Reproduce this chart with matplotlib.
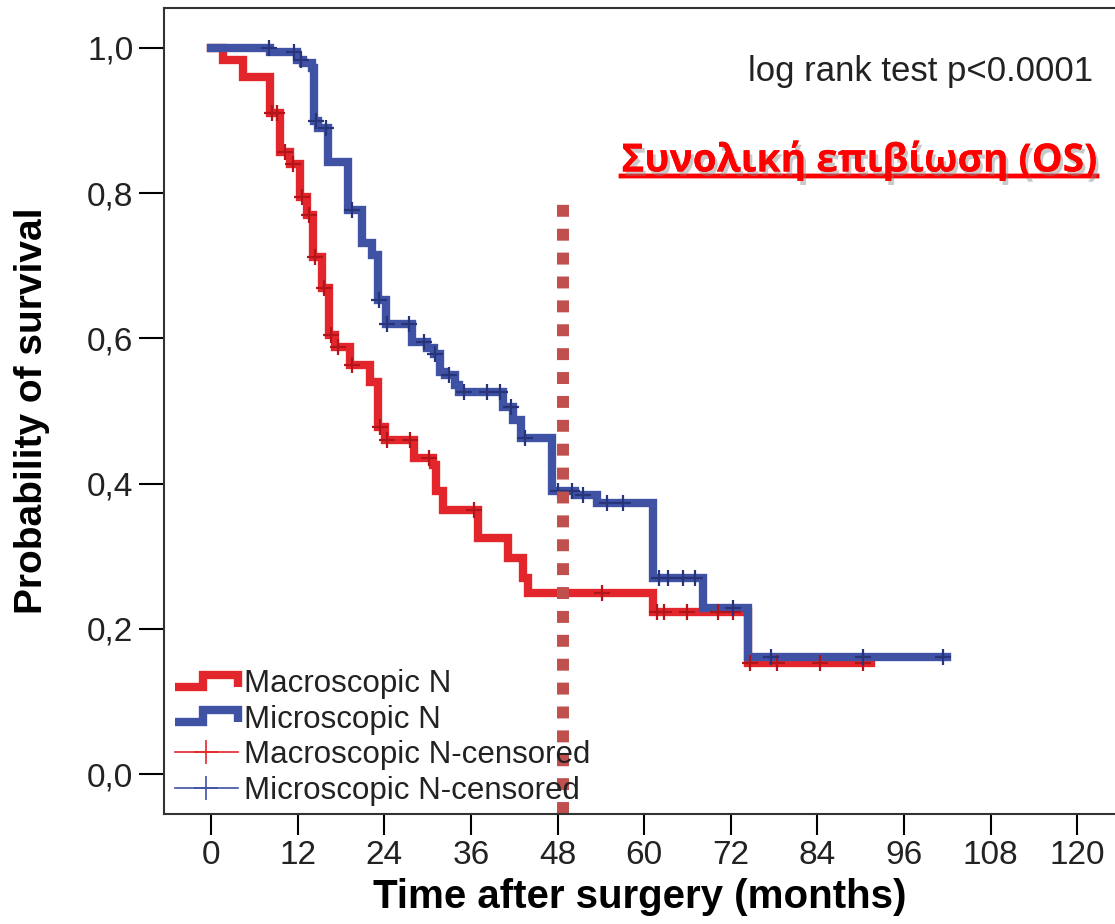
import matplotlib
matplotlib.use("Agg")
import matplotlib.pyplot as plt
import matplotlib.patheffects as pe
from matplotlib.legend_handler import HandlerBase
from matplotlib.lines import Line2D
from matplotlib.ticker import FixedLocator, FuncFormatter

# Kaplan-Meier steps (months, survival after the drop)
macro_times = [0, 1.7, 4.4, 8.2, 9.6, 10.9, 12.3, 13.3, 14.1, 15.4, 16.3, 17.2, 19.3,
               22.0, 23.1, 24.1, 28.1, 30.7, 31.2, 32.1, 37.0, 41.1, 43.2, 43.9,
               61.2, 74.4, 91.4]
macro_surv = [1.0, 0.983, 0.96, 0.91, 0.857, 0.84, 0.795, 0.77, 0.712, 0.67, 0.605,
              0.588, 0.563, 0.54, 0.478, 0.46, 0.435, 0.425, 0.39, 0.364, 0.325,
              0.298, 0.27, 0.249, 0.223, 0.153, 0.153]
micro_times = [0, 8.2, 11.9, 12.7, 14.0, 14.3, 14.8, 16.2, 19.0, 20.9, 22.3, 23.1,
               24.2, 27.8, 29.9, 30.9, 31.7, 32.4, 33.8, 34.3, 40.4, 41.8, 42.9,
               47.2, 50.4, 53.5, 61.2, 68.1, 74.4, 101.9]
micro_surv = [1.0, 0.995, 0.983, 0.979, 0.972, 0.9, 0.89, 0.843, 0.777, 0.731, 0.715,
              0.653, 0.62, 0.595, 0.587, 0.578, 0.554, 0.55, 0.536, 0.526, 0.506,
              0.488, 0.463, 0.39, 0.384, 0.373, 0.27, 0.229, 0.161, 0.161]

# censored observations (months)
macro_censor = [8.4, 9.2, 10.2, 11.4, 12.6, 13.6, 14.4, 15.6, 16.6, 17.6, 19.6, 23.4,
                24.4, 27.6, 30.2, 36.5, 54.2, 61.8, 62.8, 65.9, 70.2, 72.3, 74.6,
                78.4, 84.3, 90.3]
micro_censor = [8.0, 11.5, 12.5, 14.6, 16.0, 19.5, 23.3, 24.4, 27.5, 29.5, 31.0, 33.0,
                35.0, 38.3, 40.0, 41.5, 43.5, 48.0, 50.0, 51.5, 54.8, 57.1, 62.0,
                63.3, 65.4, 67.0, 72.3, 77.5, 90.3, 101.4]

cutoff_month = 48.75
cutoff_top = 0.785

x_ticks = [0, 12, 24, 36, 48, 60, 72, 84, 96, 108, 120]
y_ticks = [0.0, 0.2, 0.4, 0.6, 0.8, 1.0]

RED = "#e2262b"
BLUE = "#3f52a4"
DOT = "#c0504d"


def surv_at(times, surv, t):
    value = surv[0]
    for ti, si in zip(times, surv):
        if ti <= t:
            value = si
    return value


class StepHandler(HandlerBase):
    def create_artists(self, legend, orig_handle, xdescent, ydescent, width, height,
                       fontsize, trans):
        x0 = -xdescent
        lo = -ydescent + 0.25 * height
        hi = -ydescent + 0.8 * height
        xs = [x0, x0 + 0.45 * width, x0 + 0.45 * width, x0 + width, x0 + width]
        ys = [lo, lo, hi, hi, lo]
        line = Line2D(xs, ys, color=orig_handle.get_color(),
                      lw=orig_handle.get_linewidth(), solid_joinstyle="miter",
                      solid_capstyle="butt")
        line.set_transform(trans)
        return [line]


plt.rcParams["font.family"] = ["Liberation Sans", "DejaVu Sans"]

fig = plt.figure(figsize=(11.15, 9.24), dpi=100)
W, H = 1115, 924
ax = fig.add_axes([164 / W, 1 - 814 / H, 956.7 / W, 806 / H])

ax.step(macro_times, macro_surv, where="post", color=RED, lw=6, solid_joinstyle="miter")
ax.step(micro_times, micro_surv, where="post", color=BLUE, lw=6, solid_joinstyle="miter")

mc_y = [surv_at(macro_times, macro_surv, t) for t in macro_censor]
mi_y = [surv_at(micro_times, micro_surv, t) for t in micro_censor]
ax.plot(macro_censor, mc_y, ls="none", marker="+", ms=12, mew=1.6, color="#b3141a")
ax.plot(micro_censor, mi_y, ls="none", marker="+", ms=12, mew=1.6, color="#27347a")

ax.plot([cutoff_month, cutoff_month], [-0.055, cutoff_top], color=DOT, lw=8.6,
        dashes=(1, 1), solid_capstyle="butt", dash_capstyle="butt", clip_on=False)

ax.set_xlim(-6.5, 126)
ax.set_ylim(-0.055, 1.055)
ax.xaxis.set_major_locator(FixedLocator(x_ticks))
ax.yaxis.set_major_locator(FixedLocator(y_ticks))
ax.yaxis.set_major_formatter(FuncFormatter(lambda v, _: f"{v:.1f}".replace(".", ",")))
ax.tick_params(axis="y", length=18, width=1.5, pad=4, labelsize=24, labelcolor="#222222")
ax.tick_params(axis="x", length=15, width=1.5, pad=4, labelsize=24, labelcolor="#222222")
for spine in ax.spines.values():
    spine.set_linewidth(1.5)
    spine.set_color("#333333")

ax.set_xlabel("Time after surgery (months)", fontsize=29, fontweight="bold", va="top")
ax.xaxis.set_label_coords(0.4975, -0.08)
ax.set_ylabel("Probability of survival", fontsize=28, fontweight="bold", va="center")
ax.yaxis.set_label_coords(-0.138, 0.5)

handles = [
    Line2D([], [], color=RED, lw=6),
    Line2D([], [], color=BLUE, lw=6),
    Line2D([], [], color=RED, lw=1.2, marker="+", ms=17, mew=1.2),
    Line2D([], [], color=BLUE, lw=1.2, marker="+", ms=17, mew=1.2),
]
labels = ["Macroscopic N", "Microscopic N", "Macroscopic N-censored",
          "Microscopic N-censored"]
leg = ax.legend(handles, labels, loc="lower left", bbox_to_anchor=(0.0115, 0.01),
                frameon=False, fontsize=22.5, handlelength=2.0, handletextpad=0.22,
                labelspacing=0.18, borderpad=0, borderaxespad=0,
                handler_map={handles[0]: StepHandler(), handles[1]: StepHandler()})
for t in leg.get_texts():
    t.set_color("#222222")

fig.text(1093 / W, 1 - 55 / H, "log rank test p<0.0001", ha="right", va="top",
         fontsize=25, color="#222222")

shadow = [pe.withSimplePatchShadow(offset=(2, -3), shadow_rgbFace="#888888", alpha=0.45),
          pe.Normal()]
title = fig.text(1097 / W, 1 - 160 / H, "Συνολική επιβίωση (OS)", ha="right",
                 va="center", fontsize=28, fontweight="bold", color="#ff0000",
                 family=["Open Sans", "DejaVu Sans"], path_effects=shadow)
renderer = fig.canvas.get_renderer()
bb = title.get_window_extent(renderer)
uy = bb.y0 + 5
fig.add_artist(Line2D([bb.x0 / W, bb.x1 / W], [uy / H, uy / H], color="#ff0000", lw=3.2,
                      transform=fig.transFigure, path_effects=shadow))

fig.savefig("out.png", dpi=100)
